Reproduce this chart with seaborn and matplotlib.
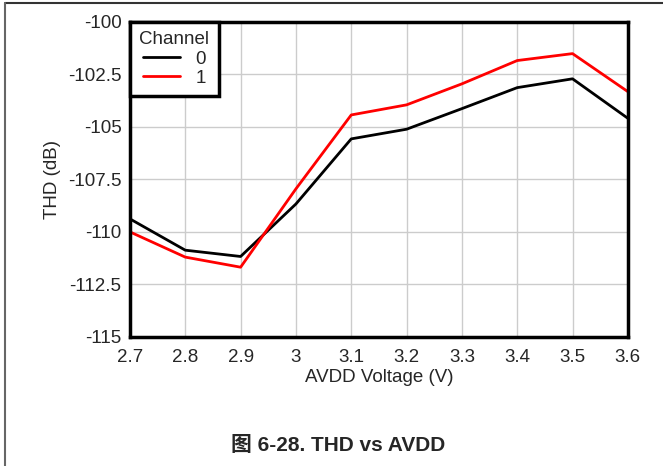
import pandas as pd
import matplotlib.pyplot as plt
import seaborn as sns
from matplotlib.lines import Line2D

avdd = [2.7, 2.8, 2.9, 3.0, 3.1, 3.2, 3.3, 3.4, 3.5, 3.6]
thd_ch0 = [-109.38, -110.87, -111.17, -108.67, -105.57, -105.11, -104.13, -103.13, -102.71, -104.59]
thd_ch1 = [-110.0, -111.2, -111.68, -107.95, -104.43, -103.95, -102.95, -101.84, -101.51, -103.32]

df = pd.DataFrame({
    'AVDD': avdd * 2,
    'THD': thd_ch0 + thd_ch1,
    'Channel': ['0'] * len(avdd) + ['1'] * len(avdd),
})

sns.set_style('white')
plt.rcParams['font.family'] = ['Liberation Sans', 'Noto Sans CJK SC', 'DejaVu Sans']

fig = plt.figure(figsize=(6.63, 4.66), dpi=100)
ax = fig.add_axes([0.196, 0.277, 0.751, 0.676])

sns.lineplot(data=df, x='AVDD', y='THD', hue='Channel',
             palette={'0': 'black', '1': 'red'}, linewidth=2, ax=ax)

ax.set_xlim(2.7, 3.6)
ax.set_ylim(-115, -100)
ax.set_xticks(avdd)
ax.set_xticklabels(['2.7', '2.8', '2.9', '3', '3.1', '3.2', '3.3', '3.4', '3.5', '3.6'])
ax.set_yticks([-115, -112.5, -110, -107.5, -105, -102.5, -100])
ax.set_yticklabels(['-115', '-112.5', '-110', '-107.5', '-105', '-102.5', '-100'])
ax.tick_params(length=0, labelsize=13.5)
ax.tick_params(axis='y', pad=6)
ax.tick_params(axis='x', pad=8.5)
ax.grid(True, color='#cccccc', linewidth=1)
for s in ax.spines.values():
    s.set_color('black')
    s.set_linewidth(2.5)

ax.set_xlabel('AVDD Voltage (V)', fontsize=13.5, labelpad=2.5)
ax.set_ylabel('THD (dB)', fontsize=13.5, labelpad=5)

leg = ax.legend(title='Channel', loc='upper left', fontsize=13.5, title_fontsize=13.5,
                fancybox=False, framealpha=1, borderaxespad=0, handlelength=2.0,
                handletextpad=0.8, borderpad=0.5, labelspacing=0.12)
leg.get_frame().set_edgecolor('black')
leg.get_frame().set_linewidth(2.5)

fig.text(0.51, 0.045, '图 6-28. THD vs AVDD', ha='center', va='center',
         fontsize=15, fontweight='bold')

fig.add_artist(Line2D([0.007, 1.0], [0.994, 0.994], color='#333333', linewidth=1.5))
fig.add_artist(Line2D([0.007, 0.007], [0.0, 0.994], color='#666666', linewidth=1.5))

fig.savefig('out.png', dpi=100)
